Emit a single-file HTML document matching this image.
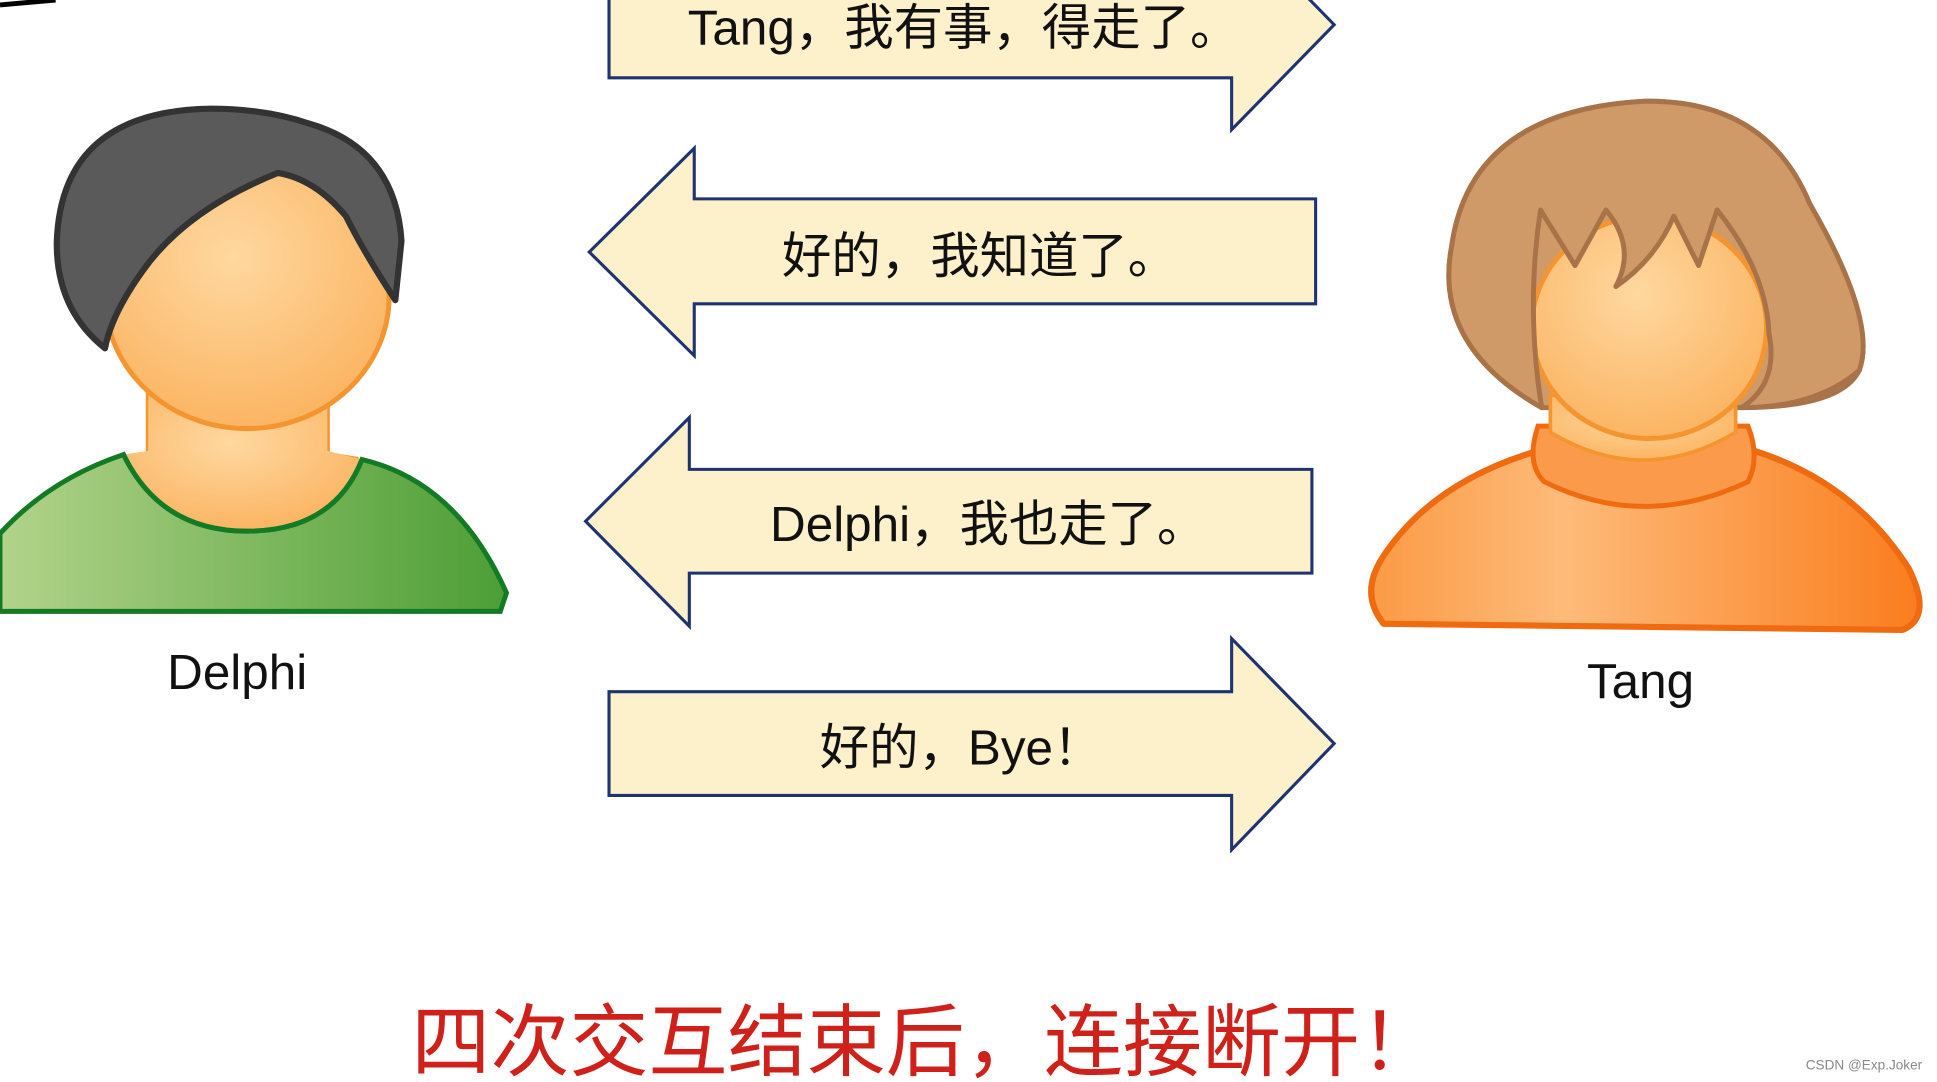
<!DOCTYPE html>
<html><head><meta charset="utf-8"><style>
html,body{margin:0;padding:0;background:#fff;width:1937px;height:1082px;overflow:hidden}
svg{display:block}
</style></head><body>
<svg width="1937" height="1082" viewBox="0 0 1568 876" preserveAspectRatio="none" xmlns="http://www.w3.org/2000/svg">
<defs>
<radialGradient id="face" cx="0.45" cy="0.35" r="0.7"><stop offset="0" stop-color="#fed8a0"/><stop offset="1" stop-color="#fbb25e"/></radialGradient>
<linearGradient id="green" x1="0" x2="1"><stop offset="0" stop-color="#b2d38a"/><stop offset="1" stop-color="#4d9e36"/></linearGradient>
<linearGradient id="orange" x1="0" x2="1"><stop offset="0" stop-color="#fb9a45"/><stop offset="0.35" stop-color="#fdbb7a"/><stop offset="1" stop-color="#fa7d1e"/></linearGradient>
</defs>
<path d="M0 4 L45 0" stroke="#000" stroke-width="4"/>
<g font-family="Liberation Sans, Noto Sans CJK SC, sans-serif" font-size="40" fill="#111" text-anchor="middle">
<g fill="#fdf1cb" stroke="#1f3370" stroke-width="2.5">
<path d="M493 -22 H997 V-65 L1080 20 L997 105 V63 H493 Z"/>
<path d="M1065 161 H562 V120 L477 204 L562 288 V246 H1065 Z"/>
<path d="M1062 380 H558 V338 L474 422 L558 507 V464 H1062 Z"/>
<path d="M493 560 H997 V517 L1080 602 L997 688 V644 H493 Z"/>
</g>
<text x="780" y="36">Tang，我有事，得走了。</text>
<text x="793" y="221">好的，我知道了。</text>
<text x="800" y="438">Delphi，我也走了。</text>
<text x="778" y="619">好的，Bye！</text>
<text x="192" y="558">Delphi</text>
<text x="1328" y="565">Tang</text>
</g>
<!-- Delphi -->
<path d="M120 310 V368 L100 372 H290 L265 368 V310 Z" fill="url(#face)" stroke="#f4952f" stroke-width="4"/>
<path d="M0 432 Q40 388 100 368 Q130 430 200 430 Q270 430 293 372 Q370 390 410 480 L405 495 H0 Z" fill="url(#green)" stroke="#137a25" stroke-width="4"/>
<path d="M100 368 Q130 430 200 430 Q270 430 293 372 L265 365 V320 H120 V365 Z" fill="url(#face)"/>
<path d="M100 368 Q130 430 200 430 Q270 430 293 372" fill="none" stroke="#137a25" stroke-width="4"/>
<ellipse cx="200" cy="240" rx="115" ry="107" fill="url(#face)" stroke="#f4952f" stroke-width="4"/>
<path d="M85 282 Q45 250 46 195 Q50 90 170 88 Q215 88 250 100 Q320 120 325 195 L320 243 Q295 205 280 175 Q255 145 225 140 Q150 170 115 220 Q90 255 85 282 Z" fill="#5a5a5a" stroke="#333" stroke-width="5" stroke-linejoin="round"/>
<!-- Tang -->
<path d="M1248 330 Q1160 280 1175 200 Q1190 90 1330 82 Q1430 80 1465 165 Q1520 260 1505 300 Q1490 330 1410 330 Z" fill="#cf9a68" stroke="#a87349" stroke-width="4"/>
<path d="M1120 505 Q1100 480 1120 450 Q1160 390 1245 365 L1420 365 Q1500 390 1545 460 Q1565 500 1540 510 Z" fill="url(#orange)" stroke="#f06a10" stroke-width="5" stroke-linejoin="round"/>
<path d="M1245 345 Q1235 375 1250 390 Q1330 430 1415 390 Q1425 370 1415 345 Z" fill="#fb9a4a" stroke="#f06a10" stroke-width="4"/>
<path d="M1255 320 V350 Q1330 395 1405 350 V320 Z" fill="url(#face)" stroke="#f4952f" stroke-width="3"/>
<ellipse cx="1335" cy="265" rx="95" ry="90" fill="url(#face)" stroke="#f4952f" stroke-width="4"/>
<path d="M1248 330 Q1235 250 1247 170 L1275 215 L1300 170 Q1325 200 1308 232 Q1340 210 1355 175 L1375 215 L1390 170 Q1430 220 1432 270 Q1440 310 1410 330 Q1470 330 1505 300 Q1520 260 1465 165 Q1430 80 1330 82 Q1190 90 1175 200 Q1160 280 1248 330 Z" fill="#cf9a68" stroke="#a87349" stroke-width="4" stroke-linejoin="round"/>
<text x="749" y="866" font-family="Liberation Sans, Noto Sans CJK SC, sans-serif" font-size="64" fill="#d0201a" text-anchor="middle">四次交互结束后，连接断开！</text>
<text x="1556" y="866" font-family="Liberation Sans, sans-serif" font-size="11" fill="#888" text-anchor="end">CSDN @Exp.Joker</text>
</svg>
</body></html>
